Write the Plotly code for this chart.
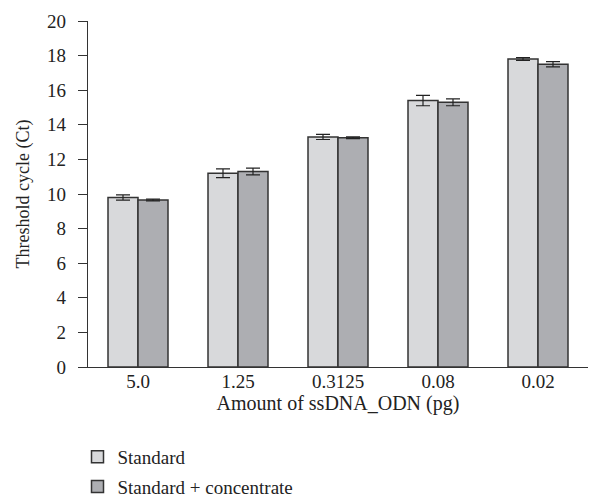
import plotly.graph_objects as go

categories = ["5.0", "1.25", "0.3125", "0.08", "0.02"]
standard = [9.8, 11.2, 13.3, 15.4, 17.8]
standard_err = [0.15, 0.25, 0.15, 0.3, 0.08]
concentrate = [9.65, 11.3, 13.25, 15.3, 17.5]
concentrate_err = [0.05, 0.2, 0.05, 0.2, 0.15]
y_ticks = [0, 2, 4, 6, 8, 10, 12, 14, 16, 18, 20]

FONT = "Liberation Serif"
fig = go.Figure()
fig.add_trace(go.Bar(
    name="Standard", x=categories, y=standard, legendgroup="a",
    marker=dict(color="#d8d9db", line=dict(color="#333333", width=1.5)),
    error_y=dict(type="data", array=standard_err, color="#222222", thickness=1.2, width=7),
))
fig.add_trace(go.Bar(
    name="Standard + concentrate", x=categories, y=concentrate, legendgroup="b",
    marker=dict(color="#adaeb2", line=dict(color="#333333", width=1.5)),
    error_y=dict(type="data", array=concentrate_err, color="#222222", thickness=1.2, width=7),
))

# page body has an 8px margin, so the figure is drawn 8px smaller and offset
fig.update_layout(
    width=597, height=496,
    margin=dict(l=80, r=17, t=13, b=137, autoexpand=False),
    paper_bgcolor="white", plot_bgcolor="white",
    barmode="group", bargap=0.4, bargroupgap=0,
    font=dict(family=FONT, size=19, color="#222222"),
    showlegend=True,
    legend=dict(
        orientation="v", x=-0.021, xanchor="left", y=-0.205, yanchor="top",
        font=dict(family=FONT, size=19, color="#222222"),
        itemwidth=30, tracegroupgap=2, bgcolor="rgba(0,0,0,0)",
    ),
    xaxis=dict(
        range=[-0.5, 4.5], showline=True, linecolor="#333333", linewidth=1.2,
        ticks="", showgrid=False, tickfont=dict(size=19), automargin=False,
        ticklabelstandoff=-3,
        title=dict(text="Amount of ssDNA_ODN (pg)", font=dict(size=20), standoff=0),
    ),
    yaxis=dict(
        range=[0, 20], tickvals=y_ticks, showline=True, linecolor="#333333", linewidth=1.2,
        ticks="outside", ticklen=9, tickcolor="#333333", showgrid=False, zeroline=False,
        tickfont=dict(size=19), automargin=False, ticklabelstandoff=8,
        title=dict(text="Threshold cycle (Ct)", font=dict(size=18), standoff=12),
    ),
)

fig.write_html("out.html")
